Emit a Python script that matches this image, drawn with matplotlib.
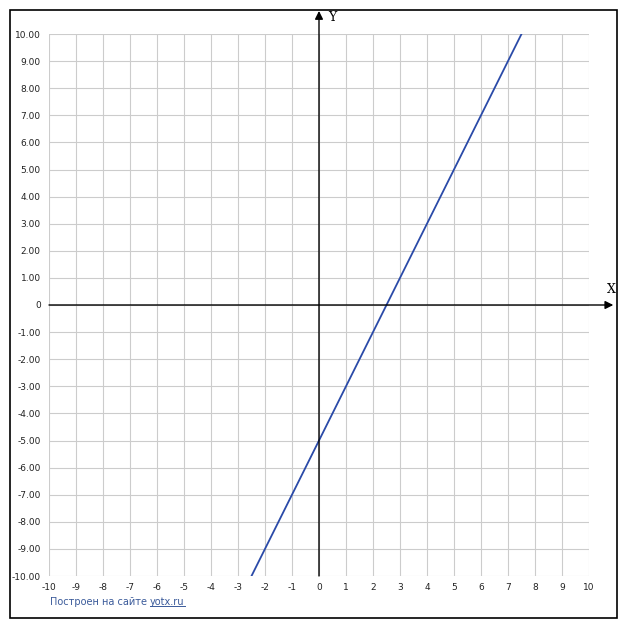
import matplotlib
matplotlib.use("Agg")
import matplotlib.pyplot as plt
from matplotlib.patches import Rectangle
from matplotlib.lines import Line2D

# y = 2x - 5, drawn between its points at the edges of the grid
line_x = [-2.5, 7.5]
line_y = [-10, 10]

x_ticks = list(range(-10, 11))
y_ticks = list(range(-10, 11))
y_labels = ["0" if v == 0 else f"{v:.2f}" for v in y_ticks]

W, H = 627, 630
fig = plt.figure(figsize=(W / 100, H / 100), dpi=100)
fig.patch.set_facecolor("white")

# outer frame
fig.add_artist(Rectangle((10 / W, 1 - 618 / H), 607 / W, 608 / H,
                         transform=fig.transFigure, fill=False,
                         edgecolor="black", linewidth=1.2))

ax = fig.add_axes([49 / W, 1 - 576 / H, 540 / W, 542 / H])
ax.set_xlim(-10, 10)
ax.set_ylim(-10, 10)
ax.set_xticks(x_ticks)
ax.set_xticklabels([str(v) for v in x_ticks])
ax.set_yticks(y_ticks)
ax.set_yticklabels(y_labels)
ax.grid(True, color="#cccccc", linewidth=0.8)
ax.set_axisbelow(True)
for s in ax.spines.values():
    s.set_visible(False)
ax.tick_params(length=0, labelsize=6.5, colors="#222222")
ax.tick_params(axis="y", pad=6)
ax.tick_params(axis="x", pad=5)

# axes with arrows
ax.annotate("", xy=(10.9, 0), xytext=(-10, 0), annotation_clip=False,
            arrowprops=dict(arrowstyle="-|>", color="black", lw=1,
                            mutation_scale=12, shrinkA=0, shrinkB=0))
ax.annotate("", xy=(0, 10.85), xytext=(0, -10), annotation_clip=False,
            arrowprops=dict(arrowstyle="-|>", color="black", lw=1,
                            mutation_scale=12, shrinkA=0, shrinkB=0))
ax.text(10.65, 0.35, "X", fontsize=9, family="DejaVu Serif", ha="left", va="bottom", clip_on=False)
ax.text(0.35, 10.6, "Y", fontsize=9, family="DejaVu Serif", ha="left", va="center", clip_on=False)

ax.plot(line_x, line_y, color="#2a4aa8", linewidth=1.3)

# footer
t1 = fig.text(50 / W, 1 - 602 / H, "Построен на сайте ", fontsize=7, color="#3a5a9a", va="center")
fig.canvas.draw()
bb = t1.get_window_extent()
t2 = fig.text(bb.x1 / W, 1 - 602 / H, "yotx.ru", fontsize=7, color="#3a5a9a", va="center")
fig.canvas.draw()
bb2 = t2.get_window_extent()
fig.add_artist(Line2D([bb2.x0 / W, bb2.x1 / W], [(bb2.y0 + 1.5) / H] * 2,
                      transform=fig.transFigure, color="#3a5a9a", linewidth=0.7))

fig.savefig("out.png", dpi=100)
